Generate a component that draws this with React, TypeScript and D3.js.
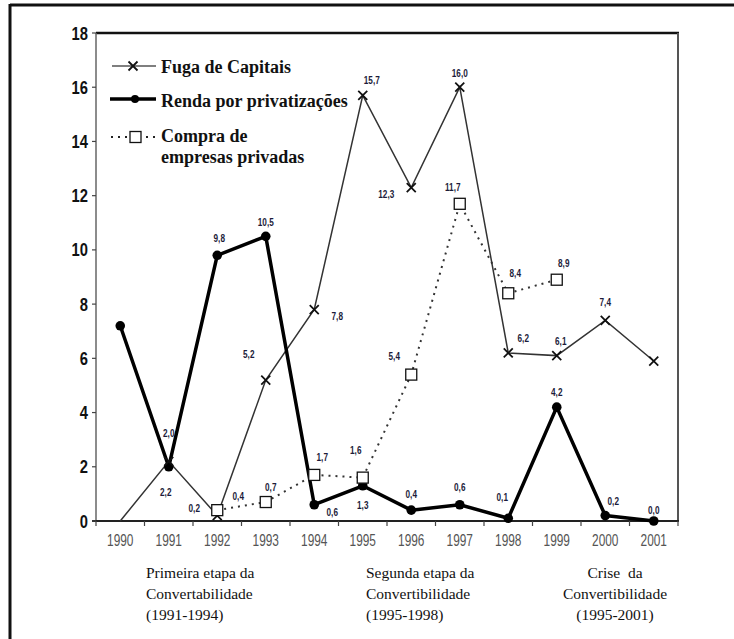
import React from "react";
import * as d3 from "d3";

const years = ["1990","1991","1992","1993","1994","1995","1996","1997","1998","1999","2000","2001"];
const yTicks = [0, 2, 4, 6, 8, 10, 12, 14, 16, 18];

// Fuga de Capitais
const fugaValues = [0, 2.2, 0.2, 5.2, 7.8, 15.7, 12.3, 16.0, 6.2, 6.1, 7.4, 5.9];
const fugaLabels = ["", "2,2", "0,2", "5,2", "7,8", "15,7", "12,3", "16,0", "6,2", "6,1", "7,4", ""];
// Renda por privatizações
const rendaValues = [7.2, 2.0, 9.8, 10.5, 0.6, 1.3, 0.4, 0.6, 0.1, 4.2, 0.2, 0.0];
const rendaLabels = ["", "2,0", "9,8", "10,5", "0,6", "1,3", "0,4", "0,6", "0,1", "4,2", "0,2", "0,0"];
// Compra de empresas privadas (1992-1999)
const compraYears = ["1992","1993","1994","1995","1996","1997","1998","1999"];
const compraValues = [0.4, 0.7, 1.7, 1.6, 5.4, 11.7, 8.4, 8.9];
const compraLabels = ["0,4", "0,7", "1,7", "1,6", "5,4", "11,7", "8,4", "8,9"];

const legendNames = ["Fuga de Capitais", "Renda por privatizações", "Compra de", "empresas privadas"];
const periodTexts = [
  ["Primeira etapa da", "Convertabilidade", "(1991-1994)"],
  ["Segunda etapa da", "Convertibilidade", "(1995-1998)"],
  ["Crise  da", "Convertibilidade", "(1995-2001)"],
];

// label offsets (layout only)
const fugaOff = [[0,0],[-3,31],[-23,-7],[-17,-26],[23,7],[9,-15],[-25,7],[0,-14],[15,-15],[4,-15],[0,-18],[0,0]];
const rendaOff = [[0,0],[0,-34],[2,-17],[0,-14],[18,7],[0,19],[0,-16],[0,-18],[-6,-21],[0,-15],[8,-14],[0,-11]];
const compraOff = [[21,-14],[5,-15],[8,-18],[-7,-28],[-17,-19],[-7,-17],[7,-20],[7,-17]];

const W = 734, H = 639;
const left = 96, right = 678, top = 33, bottom = 521;
const sans = "'Liberation Sans', Arial, sans-serif";
const serif = "'Liberation Serif', 'Times New Roman', serif";

function CText(props: { x: number; y: number; sx: number; anchor?: string; style: React.CSSProperties; children: React.ReactNode }) {
  const { x, y, sx, anchor = "middle", style, children } = props;
  return (
    <text transform={`translate(${x},${y}) scale(${sx},1)`} textAnchor={anchor as any}
      dominantBaseline="central" style={style}>{children}</text>
  );
}

export default function App() {
  const xb = d3.scaleBand<string>().domain(years).range([left, right]);
  const xc = (yr: string) => (xb(yr) as number) + xb.bandwidth() / 2;
  const y = d3.scaleLinear().domain([0, 18]).range([bottom, top]);

  const line = d3.line<[number, number]>().x(d => d[0]).y(d => d[1]);
  const fugaPts: [number, number][] = years.map((yr, i) => [xc(yr), y(fugaValues[i])]);
  const rendaPts: [number, number][] = years.map((yr, i) => [xc(yr), y(rendaValues[i])]);
  const compraPts: [number, number][] = compraYears.map((yr, i) => [xc(yr), y(compraValues[i])]);

  const labelStyle: React.CSSProperties = { fontFamily: sans, fontWeight: 700, fontSize: 10.5, fill: "#1c1c3a" };
  const legStyle: React.CSSProperties = { fontFamily: serif, fontWeight: 700, fontSize: 18, fill: "#111" };

  const xMark = (cx: number, cy: number, s: number, key: string | number, sw = 1.8) => (
    <g key={key} stroke="#111" strokeWidth={sw}>
      <line x1={cx - s} y1={cy - s} x2={cx + s} y2={cy + s} />
      <line x1={cx - s} y1={cy + s} x2={cx + s} y2={cy - s} />
    </g>
  );

  return (
    <svg width={W} height={H} style={{ position: "absolute", left: 0, top: 0, background: "#fff" }}>
      {/* outer frame */}
      <line x1={10} y1={5} x2={W} y2={5} stroke="#111" strokeWidth={3} />
      <line x1={10} y1={4} x2={10} y2={H} stroke="#111" strokeWidth={3} />

      {/* plot frame */}
      <line x1={left} y1={top} x2={right + 1} y2={top} stroke="#111" strokeWidth={2.5} />
      <line x1={right} y1={top} x2={right} y2={bottom} stroke="#555" strokeWidth={2} />
      <line x1={left} y1={top} x2={left} y2={bottom} stroke="#666" strokeWidth={1.5} />
      <line x1={left - 4} y1={bottom} x2={right + 1} y2={bottom} stroke="#222" strokeWidth={2} />

      {/* y ticks */}
      {yTicks.map(t => (
        <g key={t}>
          <line x1={left - 4} x2={left} y1={y(t)} y2={y(t)} stroke="#444" strokeWidth={1.2} />
          <CText x={left - 8} y={y(t)} sx={0.82} anchor="end"
            style={{ fontFamily: sans, fontWeight: 700, fontSize: 18, fill: "#111" }}>{t}</CText>
        </g>
      ))}

      {/* x ticks */}
      {years.map((yr) => (
        <g key={yr}>
          <line x1={xb(yr) as number} x2={xb(yr) as number} y1={bottom} y2={bottom + 5} stroke="#444" strokeWidth={1.2} />
          <CText x={xc(yr)} y={540} sx={0.72}
            style={{ fontFamily: sans, fontSize: 16.5, fill: "#555" }}>{yr}</CText>
        </g>
      ))}
      <line x1={right} x2={right} y1={bottom} y2={bottom + 5} stroke="#444" strokeWidth={1.2} />

      {/* Compra line */}
      <path d={line(compraPts) || ""} fill="none" stroke="#333" strokeWidth={2} strokeDasharray="2,5" />
      {/* Fuga line */}
      <path d={line(fugaPts) || ""} fill="none" stroke="#333" strokeWidth={1.5} />
      {/* Renda line */}
      <path d={line(rendaPts) || ""} fill="none" stroke="#000" strokeWidth={3.5} strokeLinejoin="round" />

      {/* markers */}
      {rendaPts.map((p, i) => <circle key={"r" + i} cx={p[0]} cy={p[1]} r={4.8} fill="#000" />)}
      {fugaPts.map((p, i) => i === 0 ? null : xMark(p[0], p[1], 4.5, "f" + i))}
      {compraPts.map((p, i) => (
        <rect key={"c" + i} x={p[0] - 5.5} y={p[1] - 5.5} width={11} height={11} fill="#fff" stroke="#111" strokeWidth={1.3} />
      ))}

      {/* data labels */}
      {fugaLabels.map((l, i) => l ? (
        <CText key={"fl" + i} x={fugaPts[i][0] + fugaOff[i][0]} y={fugaPts[i][1] + fugaOff[i][1]} sx={0.78} style={labelStyle}>{l}</CText>) : null)}
      {rendaLabels.map((l, i) => l ? (
        <CText key={"rl" + i} x={rendaPts[i][0] + rendaOff[i][0]} y={rendaPts[i][1] + rendaOff[i][1]} sx={0.78} style={labelStyle}>{l}</CText>) : null)}
      {compraLabels.map((l, i) => (
        <CText key={"cl" + i} x={compraPts[i][0] + compraOff[i][0]} y={compraPts[i][1] + compraOff[i][1]} sx={0.78} style={labelStyle}>{l}</CText>))}

      {/* legend */}
      <g>
        <line x1={112} x2={156} y1={66} y2={66} stroke="#555" strokeWidth={1.5} />
        {xMark(133, 66, 4.5, "lx")}
        <line x1={110} x2={156} y1={99} y2={99} stroke="#000" strokeWidth={3.5} />
        <circle cx={135} cy={99} r={4} fill="#000" />
        <line x1={111} x2={158} y1={137} y2={137} stroke="#222" strokeWidth={2} strokeDasharray="2,5" />
        <rect x={130} y={131.5} width={11} height={11} fill="#fff" stroke="#111" strokeWidth={1.3} />
        <text x={161} y={73} style={legStyle}>{legendNames[0]}</text>
        <text x={161} y={107} style={legStyle}>{legendNames[1]}</text>
        <text x={161} y={142} style={legStyle}>{legendNames[2]}</text>
        <text x={161} y={163} style={legStyle}>{legendNames[3]}</text>
      </g>

      {/* period texts */}
      {periodTexts.map((lines, k) => lines.map((t, j) => (
        <text key={k + "-" + j}
          x={k === 0 ? 146 : k === 1 ? 366 : 615}
          y={578 + j * 21}
          textAnchor={k === 2 ? "middle" : "start"}
          style={{ fontFamily: serif, fontSize: 15.5, fill: "#111", whiteSpace: "pre" }}>{t}</text>
      )))}
    </svg>
  );
}
